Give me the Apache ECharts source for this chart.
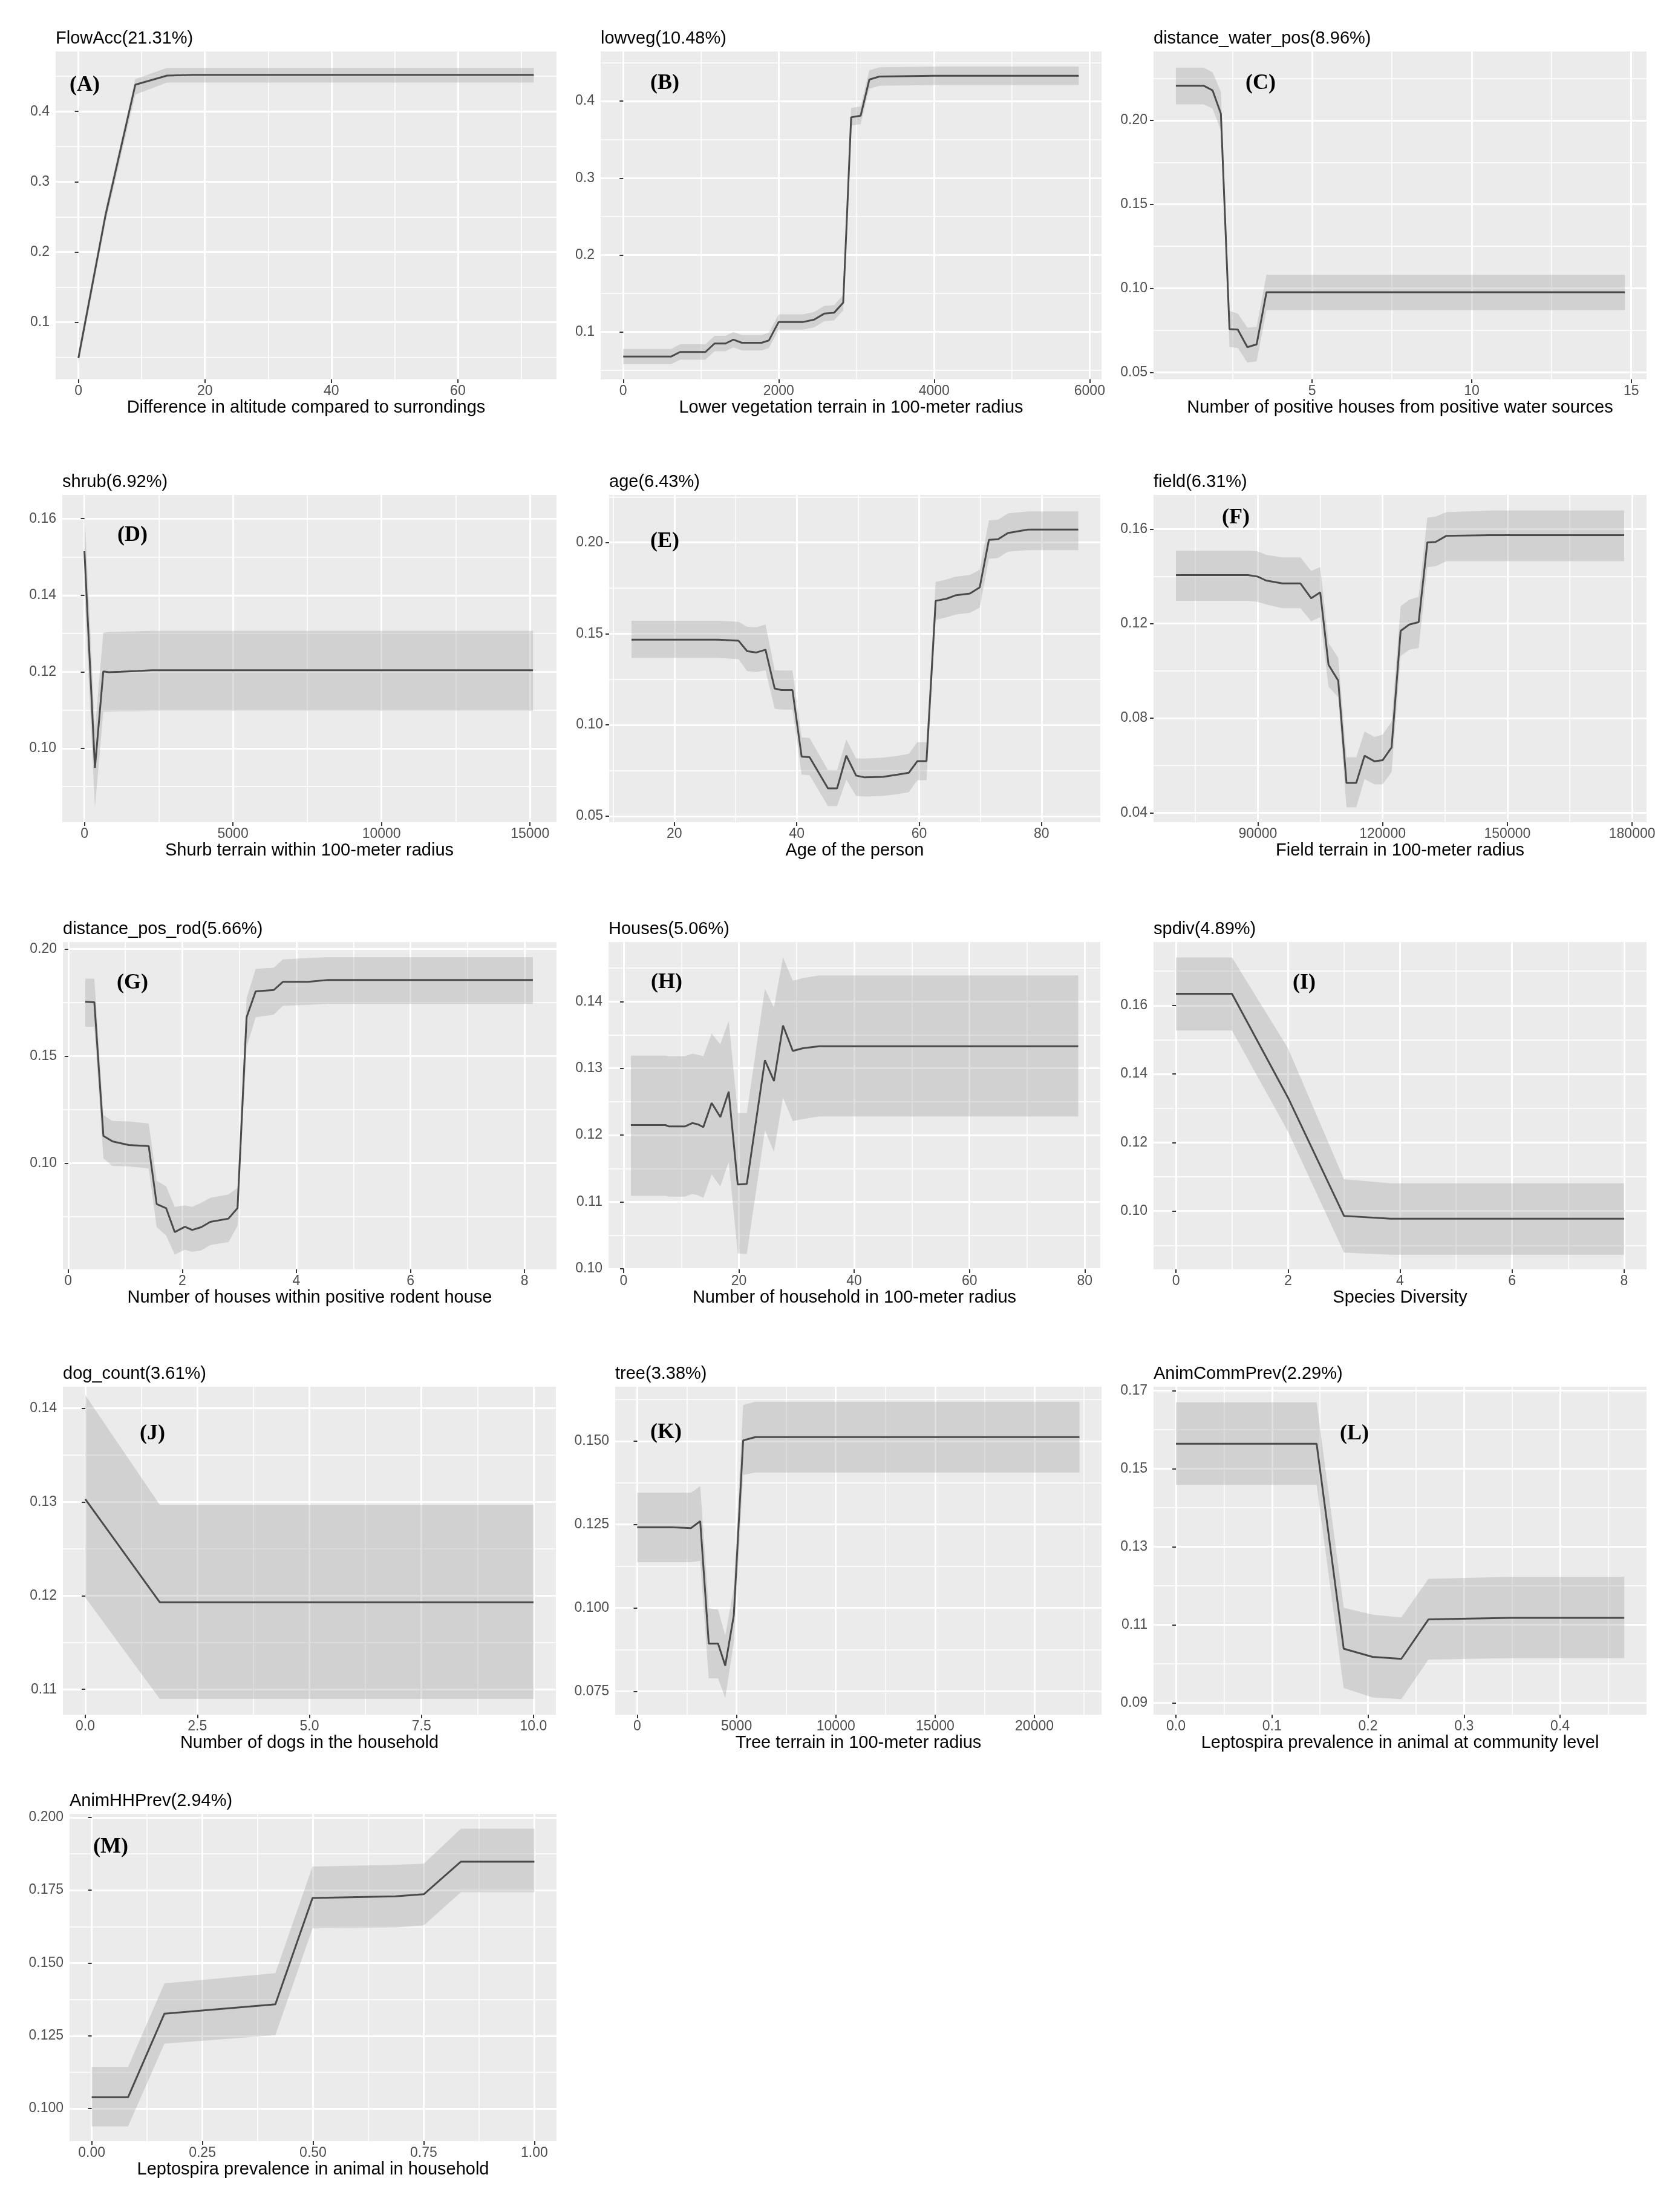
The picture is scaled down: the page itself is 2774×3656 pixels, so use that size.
<!DOCTYPE html>
<html><head><meta charset="utf-8">
<script src="https://cdn.jsdelivr.net/npm/echarts@6/dist/echarts.min.js"></script>
<style>html,body{margin:0;padding:0;background:#fff}#c{width:2774px;height:3656px}</style>
</head><body><div id="c"></div><script>
// ---------- DATA ----------
const titles = ['FlowAcc(21.31%)','lowveg(10.48%)','distance_water_pos(8.96%)','shrub(6.92%)','age(6.43%)','field(6.31%)','distance_pos_rod(5.66%)','Houses(5.06%)','spdiv(4.89%)','dog_count(3.61%)','tree(3.38%)','AnimCommPrev(2.29%)','AnimHHPrev(2.94%)'];
const xNames = ['Difference in altitude compared to surrondings','Lower vegetation terrain in 100-meter radius','Number of positive houses from positive water sources','Shurb terrain within 100-meter radius','Age of the person','Field terrain in 100-meter radius','Number of houses within positive rodent house','Number of household in 100-meter radius','Species Diversity','Number of dogs in the household','Tree terrain in 100-meter radius','Leptospira prevalence in animal at community level','Leptospira prevalence in animal in household'];
const tags = ['(A)','(B)','(C)','(D)','(E)','(F)','(G)','(H)','(I)','(J)','(K)','(L)','(M)'];

// A FlowAcc
const A_x  = [0, 4.3, 9, 14, 18, 72];
const A_y  = [0.049, 0.253, 0.438, 0.451, 0.452, 0.452];
const A_lo = [0.040, 0.243, 0.424, 0.441, 0.441, 0.441];
const A_hi = [0.058, 0.262, 0.446, 0.462, 0.462, 0.462];
const A_xr = [-3.6, 75.6], A_yr = [0.0186, 0.4854];
const A_xt = [0,20,40,60], A_xm = [10,30,50,70], A_yt = [0.1,0.2,0.3,0.4], A_ym = [0.05,0.15,0.25,0.35,0.45];

// B lowveg
const B_x  = [0, 615, 732, 1058, 1175, 1315, 1417, 1525, 1781, 1874, 2000, 2317, 2457, 2588, 2713, 2830, 2876, 2932, 3054, 3166, 3296, 3995, 5860];
const B_y  = [0.068, 0.068, 0.074, 0.074, 0.085, 0.085, 0.090, 0.086, 0.086, 0.089, 0.113, 0.113, 0.116, 0.124, 0.125, 0.138, 0.245, 0.379, 0.381, 0.428, 0.432, 0.433, 0.433];
const B_lo = [0.058, 0.058, 0.064, 0.064, 0.075, 0.075, 0.080, 0.076, 0.076, 0.079, 0.103, 0.103, 0.106, 0.114, 0.115, 0.128, 0.234, 0.368, 0.370, 0.416, 0.420, 0.421, 0.421];
const B_hi = [0.078, 0.078, 0.084, 0.084, 0.095, 0.095, 0.100, 0.096, 0.096, 0.099, 0.123, 0.123, 0.126, 0.134, 0.135, 0.148, 0.256, 0.391, 0.393, 0.440, 0.444, 0.445, 0.445];
const B_xr = [-290, 6153], B_yr = [0.0384, 0.4646];
const B_xt = [0,2000,4000,6000], B_xm = [1000,3000,5000], B_yt = [0.1,0.2,0.3,0.4], B_ym = [0.05,0.15,0.25,0.35,0.45];

// C distance_water_pos
const C_x  = [0.73, 1.6, 1.88, 2.14, 2.41, 2.67, 2.97, 3.26, 3.57, 14.8];
const C_y  = [0.2206, 0.2206, 0.2178, 0.204, 0.0757, 0.0754, 0.065, 0.0666, 0.0977, 0.0977];
const C_lo = [0.2095, 0.2095, 0.207, 0.194, 0.065, 0.0645, 0.0558, 0.0565, 0.087, 0.087];
const C_hi = [0.2314, 0.2314, 0.2286, 0.217, 0.0865, 0.085, 0.0766, 0.077, 0.1081, 0.1081];
const C_xr = [0.03, 15.48], C_yr = [0.0458, 0.241];
const C_xt = [5,10,15], C_xm = [2.5,7.5,12.5], C_yt = [0.05,0.10,0.15,0.20], C_ym = [0.075,0.125,0.175,0.225];

// D shrub
const D_x  = [0, 354, 635, 818, 1224, 1794, 2280, 15100];
const D_y  = [0.1515, 0.0949, 0.1201, 0.1199, 0.1200, 0.1202, 0.1204, 0.1204];
const D_lo = [0.141, 0.0846, 0.1096, 0.1096, 0.1097, 0.1097, 0.1098, 0.1098];
const D_hi = [0.1623, 0.105, 0.1302, 0.1304, 0.1305, 0.1306, 0.1307, 0.1307];
const D_xr = [-745, 15892], D_yr = [0.0807, 0.1662];
const D_xt = [0,5000,10000,15000], D_xm = [2500,7500,12500], D_yt = [0.10,0.12,0.14,0.16], D_ym = [0.09,0.11,0.13,0.15];

// E age
const E_x  = [13, 27.2, 30.5, 31.9, 33.4, 34.9, 36.4, 37.5, 39.3, 40.8, 42.1, 45.1, 46.6, 48.1, 49.7, 51.1, 54.1, 56.5, 58.3, 59.7, 61.2, 62.7, 64.5, 65.9, 68.3, 69.9, 71.4, 72.9, 74.5, 77.8, 86];
const E_y  = [0.1467, 0.1467, 0.1461, 0.1404, 0.1397, 0.1412, 0.1199, 0.1191, 0.1191, 0.0826, 0.0823, 0.0652, 0.0652, 0.0831, 0.0722, 0.0712, 0.0715, 0.0727, 0.0737, 0.0801, 0.0801, 0.168, 0.1692, 0.171, 0.172, 0.1754, 0.2015, 0.2018, 0.2052, 0.2071, 0.2071];
const E_lo = [0.1367, 0.1367, 0.1360, 0.1295, 0.1290, 0.1300, 0.1088, 0.1084, 0.1084, 0.0727, 0.0724, 0.0555, 0.0555, 0.0700, 0.0610, 0.0607, 0.0610, 0.0620, 0.0630, 0.0697, 0.0697, 0.1576, 0.1590, 0.1605, 0.1615, 0.1643, 0.1911, 0.1915, 0.1950, 0.1958, 0.1958];
const E_hi = [0.1571, 0.1571, 0.1565, 0.1538, 0.1535, 0.1550, 0.1300, 0.1298, 0.1298, 0.0931, 0.0928, 0.0752, 0.0752, 0.0920, 0.0816, 0.0815, 0.0820, 0.0830, 0.0841, 0.0905, 0.0905, 0.1784, 0.1797, 0.1812, 0.1822, 0.1850, 0.2122, 0.2125, 0.2160, 0.2171, 0.2171];
const E_xr = [9.35, 89.6], E_yr = [0.0466, 0.2261];
const E_xt = [20,40,60,80], E_xm = [10,30,50,70], E_yt = [0.05,0.10,0.15,0.20], E_ym = [0.075,0.125,0.175,0.225];

// F field
const F_x  = [70320, 87657, 89930, 91994, 95895, 100233, 102838, 105007, 107001, 109330, 111325, 113668, 115662, 118006, 120000, 122168, 124337, 126419, 128675, 130757, 132749, 135342, 146186, 178079];
const F_y  = [0.1405, 0.1405, 0.1399, 0.1382, 0.137, 0.137, 0.1307, 0.1332, 0.1026, 0.0959, 0.0526, 0.0526, 0.0641, 0.0618, 0.0622, 0.0676, 0.1169, 0.1196, 0.1206, 0.1543, 0.1545, 0.1571, 0.1574, 0.1574];
const F_lo = [0.1296, 0.1296, 0.1292, 0.1281, 0.1265, 0.1265, 0.121, 0.1227, 0.0934, 0.0888, 0.0423, 0.0423, 0.0543, 0.052, 0.052, 0.0572, 0.1063, 0.1089, 0.1097, 0.1439, 0.1442, 0.1464, 0.1464, 0.1464];
const F_hi = [0.1508, 0.1508, 0.1506, 0.1491, 0.148, 0.148, 0.1422, 0.1439, 0.1118, 0.1055, 0.0635, 0.0635, 0.0744, 0.0721, 0.073, 0.0785, 0.1273, 0.1301, 0.1313, 0.1648, 0.1652, 0.1671, 0.1678, 0.1678];
const F_xr = [64930, 183470], F_yr = [0.036, 0.1744];
const F_xt = [90000,120000,150000,180000], F_xm = [75000,105000,135000,165000], F_yt = [0.04,0.08,0.12,0.16], F_ym = [0.06,0.10,0.14];

// G distance_pos_rod
const G_x  = [0.299, 0.458, 0.617, 0.776, 1.061, 1.411, 1.551, 1.716, 1.868, 2.046, 2.173, 2.332, 2.491, 2.809, 2.968, 3.127, 3.286, 3.604, 3.762, 4.207, 4.556, 8.146];
const G_y  = [0.1754, 0.1752, 0.1127, 0.1102, 0.1085, 0.108, 0.0809, 0.079, 0.0678, 0.0703, 0.0688, 0.0701, 0.0726, 0.0741, 0.079, 0.1682, 0.1803, 0.1809, 0.1847, 0.1847, 0.1856, 0.1856];
const G_lo = [0.1637, 0.1637, 0.1022, 0.0987, 0.0985, 0.0975, 0.0701, 0.0662, 0.0573, 0.0596, 0.0586, 0.0592, 0.0618, 0.0631, 0.0707, 0.1541, 0.1682, 0.1694, 0.1735, 0.1740, 0.1745, 0.1745];
const G_hi = [0.1862, 0.1862, 0.1225, 0.1197, 0.1195, 0.1185, 0.0917, 0.0892, 0.0796, 0.0803, 0.0796, 0.0815, 0.0838, 0.0854, 0.0885, 0.1771, 0.1908, 0.1913, 0.1952, 0.1958, 0.1962, 0.1962];
const G_xr = [-0.093, 8.56], G_yr = [0.0504, 0.2033];
const G_xt = [0,2,4,6,8], G_xm = [1,3,5,7], G_yt = [0.10,0.15,0.20], G_ym = [0.075,0.125,0.175];

// H Houses
const H_x  = [1.26, 7.23, 7.82, 10.68, 11.94, 12.9, 13.83, 15.27, 16.78, 18.23, 19.8, 21.37, 24.51, 26.08, 27.65, 29.35, 31.1, 33.94, 78.87];
const H_y  = [0.1215, 0.1215, 0.1213, 0.1213, 0.1218, 0.1216, 0.1212, 0.1248, 0.1227, 0.1265, 0.1126, 0.1127, 0.1312, 0.1281, 0.1364, 0.1326, 0.133, 0.1333, 0.1333];
const H_lo = [0.1109, 0.1109, 0.1108, 0.1108, 0.1112, 0.1110, 0.1106, 0.1141, 0.1123, 0.116, 0.1023, 0.1022, 0.1207, 0.1175, 0.1256, 0.1221, 0.1224, 0.1228, 0.1228];
const H_hi = [0.1319, 0.1319, 0.1318, 0.1318, 0.1322, 0.1320, 0.1318, 0.1352, 0.1336, 0.1371, 0.1233, 0.1233, 0.1419, 0.1391, 0.1466, 0.1431, 0.1435, 0.1439, 0.1439];
const H_xr = [-2.62, 82.7], H_yr = [0.0999, 0.1489];
const H_xt = [0,20,40,60,80], H_xm = [10,30,50,70], H_yt = [0.10,0.11,0.12,0.13,0.14], H_ym = [0.105,0.115,0.125,0.135,0.145];

// I spdiv
const I_x  = [0, 1, 2, 3, 3.83, 8];
const I_y  = [0.1634, 0.1634, 0.1331, 0.0986, 0.0978, 0.0978];
const I_lo = [0.1527, 0.1527, 0.1232, 0.0879, 0.0873, 0.0873];
const I_hi = [0.174, 0.174, 0.1475, 0.1093, 0.1081, 0.1081];
const I_xr = [-0.4, 8.4], I_yr = [0.083, 0.1785];
const I_xt = [0,2,4,6,8], I_xm = [1,3,5,7], I_yt = [0.10,0.12,0.14,0.16], I_ym = [0.09,0.11,0.13,0.15,0.17];

// J dog_count
const J_x  = [0, 1.66, 10];
const J_y  = [0.1303, 0.1193, 0.1193];
const J_lo = [0.1198, 0.109, 0.109];
const J_hi = [0.1414, 0.1297, 0.1297];
const J_xr = [-0.5, 10.5], J_yr = [0.1073, 0.1423];
const J_xt = [0,2.5,5,7.5,10], J_xm = [1.25,3.75,6.25,8.75], J_yt = [0.11,0.12,0.13,0.14], J_ym = [0.115,0.125,0.135];

// K tree
const K_x  = [0, 1729, 2703, 3171, 3603, 4071, 4432, 4863, 5334, 5945, 22269];
const K_y  = [0.1242, 0.1242, 0.1239, 0.126, 0.0893, 0.0893, 0.0827, 0.0978, 0.1502, 0.1512, 0.1512];
const K_lo = [0.1137, 0.1137, 0.1137, 0.1141, 0.0789, 0.0789, 0.073, 0.0897, 0.1398, 0.1406, 0.1406];
const K_hi = [0.1345, 0.1345, 0.1345, 0.1365, 0.0999, 0.0995, 0.0917, 0.106, 0.1608, 0.1618, 0.1618];
const K_xr = [-1110, 23380], K_yr = [0.068, 0.1663];
const K_xt = [0,5000,10000,15000,20000], K_xm = [2500,7500,12500,17500,22500], K_yt = [0.075,0.100,0.125,0.150], K_ym = [0.0875,0.1125,0.1375,0.1625];

// L AnimCommPrev
const L_x  = [0, 0.1465, 0.1747, 0.2047, 0.2347, 0.2629, 0.3474, 0.4668];
const L_y  = [0.1564, 0.1564, 0.1039, 0.1018, 0.1013, 0.1114, 0.1118, 0.1118];
const L_lo = [0.1459, 0.1459, 0.0938, 0.0914, 0.091, 0.1011, 0.1015, 0.1015];
const L_hi = [0.167, 0.167, 0.1144, 0.1126, 0.1119, 0.1218, 0.1223, 0.1223];
const L_xr = [-0.0233, 0.490], L_yr = [0.087, 0.171];
const L_xt = [0,0.1,0.2,0.3,0.4], L_xm = [0.05,0.15,0.25,0.35,0.45], L_yt = [0.09,0.11,0.13,0.15,0.17], L_ym = [0.10,0.12,0.14,0.16];

// M AnimHHPrev
const M_x  = [0, 0.0821, 0.1643, 0.4149, 0.4988, 0.6861, 0.7502, 0.834, 1.0];
const M_y  = [0.1039, 0.1039, 0.1326, 0.1358, 0.1723, 0.1729, 0.1736, 0.1848, 0.1848];
const M_lo = [0.0939, 0.0939, 0.1223, 0.1252, 0.1619, 0.1622, 0.1629, 0.1743, 0.1743];
const M_hi = [0.1143, 0.1143, 0.143, 0.1465, 0.1831, 0.1837, 0.1841, 0.1961, 0.1961];
const M_xr = [-0.05, 1.05], M_yr = [0.0888, 0.2012];
const M_xt = [0,0.25,0.5,0.75,1], M_xm = [0.125,0.375,0.625,0.875], M_yt = [0.100,0.125,0.150,0.175,0.200], M_ym = [0.1125,0.1375,0.1625,0.1875];

// label decimals [x, y]
const decimals = [[0,1],[0,1],[0,2],[0,2],[0,2],[0,2],[0,2],[0,2],[0,2],[1,2],[0,3],[1,2],[2,3]];

// ---------- LAYOUT (pixels) ----------
const boxes = [
  [92,85,920,627],[993,85,1821,627],[1907,85,2722,627],
  [103,818,920,1359],[1007,818,1819,1359],[1907,818,2722,1359],
  [104,1557,920,2098],[1006,1557,1819,2098],[1907,1557,2722,2098],
  [104,2292,919,2834],[1017,2292,1821,2834],[1907,2292,2722,2834],
  [115,2998,920,3539]
];
const tagPos = [[140,141],[1099,138],[2084,138],[219,885],[1099,895],[2043,856],[219,1625],[1102,1624],[2156,1625],[252,2370],[1101,2368],[2239,2370],[183,3053]];

const panels = [
  [A_x,A_y,A_lo,A_hi,A_xr,A_yr,A_xt,A_xm,A_yt,A_ym],
  [B_x,B_y,B_lo,B_hi,B_xr,B_yr,B_xt,B_xm,B_yt,B_ym],
  [C_x,C_y,C_lo,C_hi,C_xr,C_yr,C_xt,C_xm,C_yt,C_ym],
  [D_x,D_y,D_lo,D_hi,D_xr,D_yr,D_xt,D_xm,D_yt,D_ym],
  [E_x,E_y,E_lo,E_hi,E_xr,E_yr,E_xt,E_xm,E_yt,E_ym],
  [F_x,F_y,F_lo,F_hi,F_xr,F_yr,F_xt,F_xm,F_yt,F_ym],
  [G_x,G_y,G_lo,G_hi,G_xr,G_yr,G_xt,G_xm,G_yt,G_ym],
  [H_x,H_y,H_lo,H_hi,H_xr,H_yr,H_xt,H_xm,H_yt,H_ym],
  [I_x,I_y,I_lo,I_hi,I_xr,I_yr,I_xt,I_xm,I_yt,I_ym],
  [J_x,J_y,J_lo,J_hi,J_xr,J_yr,J_xt,J_xm,J_yt,J_ym],
  [K_x,K_y,K_lo,K_hi,K_xr,K_yr,K_xt,K_xm,K_yt,K_ym],
  [L_x,L_y,L_lo,L_hi,L_xr,L_yr,L_xt,L_xm,L_yt,L_ym],
  [M_x,M_y,M_lo,M_hi,M_xr,M_yr,M_xt,M_xm,M_yt,M_ym]
];

const FONT = '"Liberation Sans", Arial, sans-serif';
const TICK_COLOR = '#4D4D4D';
const grid = [], xAxis = [], yAxis = [], series = [], graphic = [];

panels.forEach((p, i) => {
  const [px, py, plo, phi, xr, yr, xt, xm, yt, ym] = p;
  const [l, t, r, b] = boxes[i];
  const [dx, dy] = decimals[i];
  grid.push({left: l, top: t, width: r - l, height: b - t, show: true, backgroundColor: '#EBEBEB', borderWidth: 0, outerBoundsMode: 'none', containLabel: false});
  const tickStyle = {show: true, length: 6, inside: false, lineStyle: {color: '#333333', width: 2}};
  // major x
  xAxis.push({type: 'value', gridIndex: i, min: xr[0], max: xr[1], position: 'bottom',
    name: xNames[i], nameLocation: 'middle', nameGap: 32,
    nameTextStyle: {color: '#000', fontSize: 29, fontFamily: FONT},
    axisLine: {show: false}, axisTick: Object.assign({customValues: xt}, tickStyle),
    axisLabel: {customValues: xt, margin: 8, color: TICK_COLOR, fontSize: 23, fontFamily: FONT, formatter: v => Number(v).toFixed(dx)},
    splitLine: {show: true, lineStyle: {color: '#FFFFFF', width: 3}}, z: 1});
  // minor x
  xAxis.push({type: 'value', gridIndex: i, min: xr[0], max: xr[1], position: 'bottom',
    axisLine: {show: false}, axisTick: {show: false, customValues: xm}, axisLabel: {show: false},
    splitLine: {show: true, lineStyle: {color: '#FFFFFF', width: 1.5}}, z: 0});
  // major y
  yAxis.push({type: 'value', gridIndex: i, min: yr[0], max: yr[1], position: 'left',
    axisLine: {show: false}, axisTick: Object.assign({customValues: yt}, tickStyle),
    axisLabel: {customValues: yt, margin: 10, color: TICK_COLOR, fontSize: 23, fontFamily: FONT, formatter: v => Number(v).toFixed(dy)},
    splitLine: {show: true, lineStyle: {color: '#FFFFFF', width: 3}}, z: 1});
  // minor y
  yAxis.push({type: 'value', gridIndex: i, min: yr[0], max: yr[1], position: 'left',
    axisLine: {show: false}, axisTick: {show: false, customValues: ym}, axisLabel: {show: false},
    splitLine: {show: true, lineStyle: {color: '#FFFFFF', width: 1.5}}, z: 0});

  const rows = px.map((x, k) => [x, plo[k], phi[k]]);
  series.push({
    type: 'custom', xAxisIndex: 2 * i, yAxisIndex: 2 * i, clip: true, silent: true, z: 2,
    data: rows, encode: {x: 0, y: [1, 2]},
    renderItem: (params, api) => {
      if (params.dataIndex !== 0) return null;
      const up = rows.map(d => api.coord([d[0], d[2]]));
      const dn = rows.map(d => api.coord([d[0], d[1]])).reverse();
      return {type: 'polygon', shape: {points: up.concat(dn)}, style: {fill: 'rgba(150,150,150,0.30)'}};
    }
  });
  series.push({
    type: 'line', xAxisIndex: 2 * i, yAxisIndex: 2 * i, silent: true, z: 3,
    data: px.map((x, k) => [x, py[k]]), symbol: 'none', showSymbol: false,
    lineStyle: {color: '#4A4A4A', width: 3}
  });

  graphic.push({type: 'text', x: l, y: t - 21, silent: true,
    style: {text: titles[i], fill: '#000', font: '29px ' + FONT, textAlign: 'left', textVerticalAlign: 'middle'}});
  graphic.push({type: 'text', x: tagPos[i][0], y: tagPos[i][1], silent: true, z: 10,
    style: {text: tags[i], fill: '#000', font: 'bold 36px "Liberation Serif", "Times New Roman", serif', textAlign: 'center', textVerticalAlign: 'middle'}});
});

const chart = echarts.init(document.getElementById('c'), null, {renderer: 'canvas', width: 2774, height: 3656});
chart.setOption({
  animation: false,
  backgroundColor: '#FFFFFF',
  grid, xAxis, yAxis, series, graphic
});
</script></body></html>
